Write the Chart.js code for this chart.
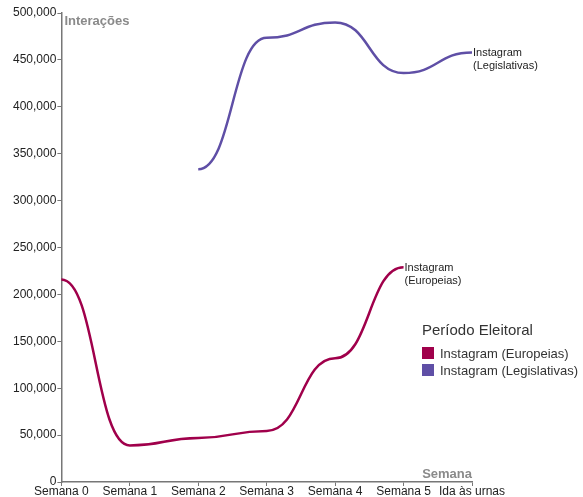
<!DOCTYPE html>
<html>
<head>
<meta charset="utf-8">
<script src="https://cdn.jsdelivr.net/npm/chart.js@4/dist/chart.umd.min.js"></script>
<style>
  body { margin: 0; background: #fff; }
  #wrap { width: 583px; height: 497px; }
</style>
</head>
<body>
<div id="wrap"><canvas id="myChart"></canvas></div>
<script>
var semanas = ['Semana 0', 'Semana 1', 'Semana 2', 'Semana 3', 'Semana 4', 'Semana 5', 'Ida às urnas']
var europeias = [216000, 39000, 47000, 54500, 132000, 229000, null]
var legislativas = [null, null, 333500, 473500, 490000, 436000, 458000]
var seriesNames = ['Instagram (Europeias)', 'Instagram (Legislativas)']
var seriesColors = ['#a0004b', '#5f4fa6']

var font = 'Liberation Sans, Arial, sans-serif'

// flat tangent at every point (bump-style curve between points)
var bumpCurve = {
    id: 'bumpCurve',
    afterDatasetsUpdate: function (chart) {
        chart.data.datasets.forEach(function (ds, i) {
            var meta = chart.getDatasetMeta(i)
            var pts = meta.data
            for (var k = 0; k < pts.length; k++) {
                var p = pts[k]
                var prev = pts[k - 1], next = pts[k + 1]
                p.cp1x = prev ? (prev.x + p.x) / 2 : p.x
                p.cp1y = p.y
                p.cp2x = next ? (p.x + next.x) / 2 : p.x
                p.cp2y = p.y
            }
            meta.dataset._pointsUpdated = true
        })
    }
}

// labels at the end of each line, axis titles and the legend
var extras = {
    id: 'extras',
    afterDatasetsDraw: function (chart) {
        var ctx = chart.ctx
        var area = chart.chartArea
        ctx.save()
        ctx.fillStyle = '#222'
        ctx.font = '11px ' + font
        ctx.textBaseline = 'middle'
        ctx.textAlign = 'left'
        chart.data.datasets.forEach(function (ds, i) {
            var pts = chart.getDatasetMeta(i).data
            var last = -1
            for (var k = 0; k < ds.data.length; k++) {
                if (ds.data[k] !== null) last = k
            }
            var p = pts[last]
            var parts = seriesNames[i].split(' ')
            ctx.fillText(parts[0], p.x + 1, p.y + 1)
            ctx.fillText(parts[1], p.x + 1, p.y + 14)
        })

        // axis titles
        ctx.fillStyle = '#8a8a8a'
        ctx.font = 'bold 13px ' + font
        ctx.textAlign = 'left'
        ctx.fillText('Interações', area.left + 3, area.top + 8)
        ctx.textAlign = 'right'
        ctx.fillText('Semana', area.right, area.bottom - 8)

        // legend
        var lx = 422, ly = 331
        ctx.textAlign = 'left'
        ctx.fillStyle = '#333'
        ctx.font = '15px ' + font
        ctx.fillText('Período Eleitoral', lx, ly)
        ctx.font = '13px ' + font
        for (var j = 0; j < seriesNames.length; j++) {
            var y = ly + 16 + j * 17
            ctx.fillStyle = seriesColors[j]
            ctx.fillRect(lx, y, 12, 12)
            ctx.fillStyle = '#333'
            ctx.fillText(seriesNames[j], lx + 18, y + 7)
        }
        ctx.restore()
    }
}

var ctx = document.getElementById('myChart').getContext('2d')
var myChart = new Chart(ctx, {
    type: 'line',
    data: {
        labels: semanas,
        datasets: [{
            label: seriesNames[0],
            data: europeias,
            borderColor: seriesColors[0],
            borderWidth: 2.5,
            pointRadius: 0,
            tension: 0.4,
            spanGaps: false
        }, {
            label: seriesNames[1],
            data: legislativas,
            borderColor: seriesColors[1],
            borderWidth: 2.5,
            pointRadius: 0,
            tension: 0.4,
            spanGaps: false
        }]
    },
    options: {
        responsive: true,
        maintainAspectRatio: false,
        animation: false,
        layout: { padding: { top: 13, right: 111, bottom: 0, left: 12 } },
        plugins: {
            legend: { display: false },
            tooltip: { enabled: false }
        },
        scales: {
            x: {
                offset: false,
                grid: { display: true, drawOnChartArea: false, tickLength: 4, color: '#777' },
                border: { color: '#777', width: 1.5 },
                ticks: {
                    color: '#222', font: { size: 12, family: font, lineHeight: 0.75 },
                    maxRotation: 0, autoSkip: false, padding: 1
                }
            },
            y: {
                min: 0,
                max: 500000,
                grid: { display: true, drawOnChartArea: false, tickLength: 4, color: '#777' },
                border: { color: '#777', width: 1.5 },
                ticks: {
                    stepSize: 50000,
                    color: '#222', font: { size: 12, family: font }, padding: 1,
                    callback: function (v) { return v.toLocaleString('en-US') }
                }
            }
        }
    },
    plugins: [bumpCurve, extras]
})
</script>
</body>
</html>
